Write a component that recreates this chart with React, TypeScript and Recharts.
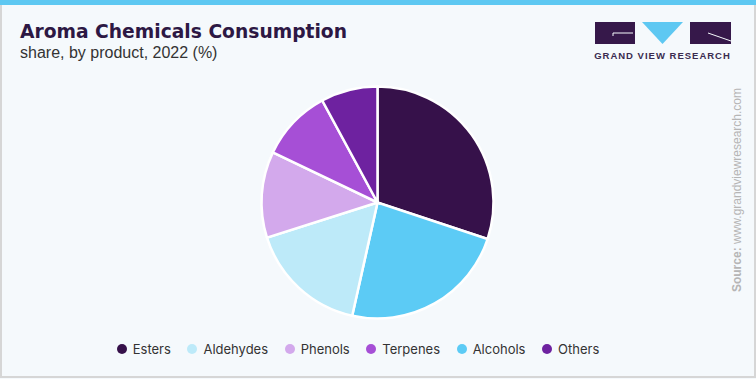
import React from "react";
import { PieChart, Pie, Cell, Legend } from "recharts";

const sliceNames = ["Esters", "Alcohols", "Aldehydes", "Phenols", "Terpenes", "Others"];
const sliceValues = [30.1, 23.4, 16.6, 12.0, 10.0, 7.9];
const legendOrder = ["Esters", "Aldehydes", "Phenols", "Terpenes", "Alcohols", "Others"];

const COLORS: Record<string, string> = {
  Esters: "#36114a",
  Alcohols: "#5ccbf5",
  Aldehydes: "#bdeaf9",
  Phenols: "#d3a9ec",
  Terpenes: "#a64fd6",
  Others: "#6e22a0",
};

const data = sliceNames.map((name, i) => ({ name, value: sliceValues[i] }));

const LegendContent = () => (
  <div
    style={{
      display: "flex",
      justifyContent: "center",
      alignItems: "center",
      fontFamily: "Inter, 'Noto Sans', sans-serif",
      fontSize: 13,
      color: "#333",
    }}
  >
    {legendOrder.map((n) => (
      <div key={n} style={{ display: "flex", alignItems: "center", margin: "0 8.3px" }}>
        <span
          style={{
            display: "inline-block",
            width: 10,
            height: 10,
            borderRadius: 5,
            background: COLORS[n],
            marginRight: 6,
          }}
        />
        <span>{n}</span>
      </div>
    ))}
  </div>
);

export default function App() {
  return (
    <div
      style={{
        position: "absolute",
        left: 0,
        top: 0,
        width: 756,
        height: 379,
        background: "#f5f9fc",
        overflow: "hidden",
      }}
    >
      <div
        style={{
          position: "absolute",
          left: 0,
          top: 0,
          width: 752,
          height: 376,
          borderLeft: "2px solid #d6d6d6",
          borderRight: "2px solid #d6d6d6",
          borderBottom: "2px solid #d6d6d6",
        }}
      />
      <div style={{ position: "absolute", left: 0, top: 0, width: 756, height: 5, background: "#5ec8f2" }} />
      <div
        style={{
          position: "absolute",
          left: 20,
          top: 21,
          fontFamily: "'DejaVu Sans', sans-serif",
          fontWeight: 700,
          fontSize: 18.7,
          color: "#2d1844",
          whiteSpace: "nowrap",
        }}
      >
        Aroma Chemicals Consumption
      </div>
      <div
        style={{
          position: "absolute",
          left: 20,
          top: 44,
          fontFamily: "'Liberation Sans', Arial, sans-serif",
          fontSize: 16,
          color: "#333",
          whiteSpace: "nowrap",
        }}
      >
        share, by product, 2022 (%)
      </div>
      <svg style={{ position: "absolute", left: 0, top: 0 }} width={756} height={80}>
        <rect x={595} y={22} width={40} height={22} fill="#36184a" />
        <path d="M613 33 H 633 M 613 33 V 36" stroke="#f5f9fc" strokeWidth={1} fill="none" />
        <polygon points="642,22 683,22 662.5,44" fill="#5ec8f2" />
        <rect x={690} y={22} width={41} height={22} fill="#36184a" />
        <path d="M 708 33 L 731 41" stroke="#f5f9fc" strokeWidth={1} fill="none" />
        <text
          x={662.5}
          y={59}
          textAnchor="middle"
          fontFamily="'Liberation Sans', Arial, sans-serif"
          fontWeight={700}
          fontSize={9.5}
          letterSpacing={1}
          fill="#3a2c50"
        >
          GRAND VIEW RESEARCH
        </text>
      </svg>
      <div
        style={{
          position: "absolute",
          left: 737,
          top: 190,
          transform: "translate(-50%, -50%) rotate(-90deg)",
          fontFamily: "'Liberation Sans', Arial, sans-serif",
          fontSize: 12,
          color: "#b5b5b5",
          whiteSpace: "nowrap",
        }}
      >
        <b>Source:</b> www.grandviewresearch.com
      </div>
      <div style={{ position: "absolute", left: 0, top: 0 }}>
        <PieChart width={756} height={379} margin={{ top: 0, right: 0, bottom: 0, left: 0 }}>
          <Pie
            data={data}
            dataKey="value"
            nameKey="name"
            cx={377.5}
            cy={202.5}
            outerRadius={116}
            startAngle={90}
            endAngle={-270}
            stroke="#ffffff"
            strokeWidth={2.5}
            isAnimationActive={false}
          >
            {data.map((d) => (
              <Cell key={d.name} fill={COLORS[d.name]} />
            ))}
          </Pie>
          <Legend
            content={LegendContent}
            wrapperStyle={{ left: 0, top: 341, width: 716, height: 20 }}
          />
        </PieChart>
      </div>
    </div>
  );
}
